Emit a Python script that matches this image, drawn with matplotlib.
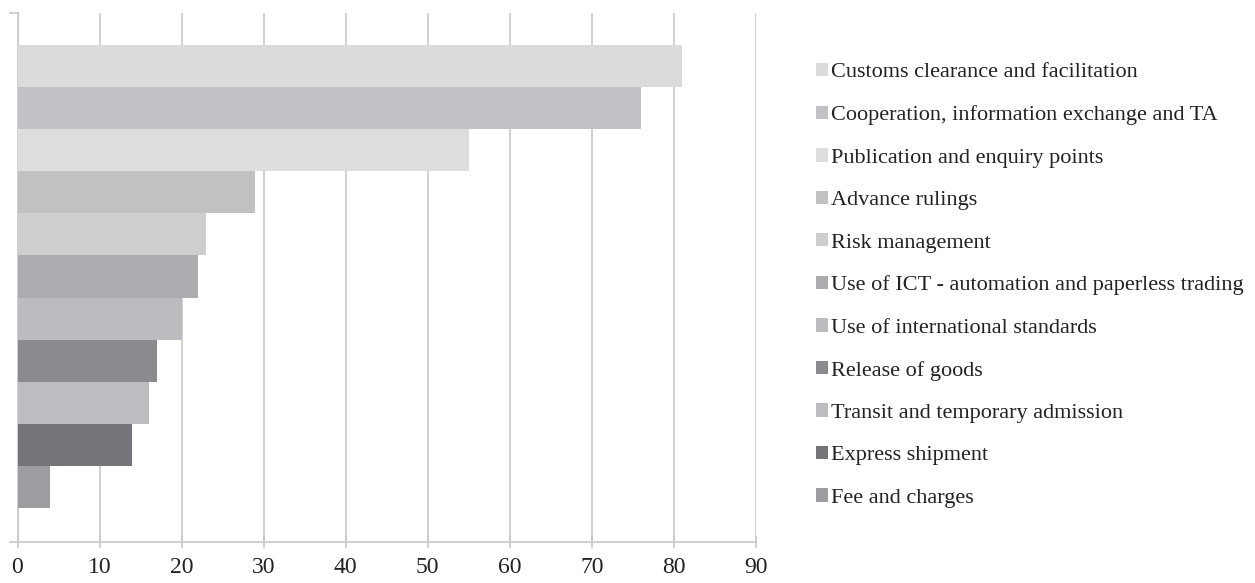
import matplotlib.pyplot as plt
from matplotlib.patches import Patch

categories = ['Customs clearance and facilitation',
              'Cooperation, information exchange and TA',
              'Publication and enquiry points',
              'Advance rulings',
              'Risk management',
              'Use of ICT - automation and paperless trading',
              'Use of international standards',
              'Release of goods',
              'Transit and temporary admission',
              'Express shipment',
              'Fee and charges']
values = [81, 76, 55, 29, 23, 22, 20, 17, 16, 14, 4]
colors = ['#DADBDD', '#C1C2C5', '#DCDDDF', '#C0C1C3', '#CDCED0', '#ABACAF',
          '#BBBCBF', '#8A8B8E', '#BCBDC0', '#747578', '#9C9DA0']

plt.rcParams['font.family'] = ['Liberation Serif', 'DejaVu Serif']

fig = plt.figure(figsize=(12.55, 5.83), dpi=100)
ax = fig.add_axes([17.5 / 1255, 1 - 542 / 583, (756 - 17.5) / 1255, (542 - 13) / 583])

n = len(values)
ypos = list(range(n))
ax.barh(ypos, values, height=1.0, color=colors, zorder=3)
ax.set_ylim(n - 0.5 + 0.8, -0.5 - 0.75)
ax.set_xlim(0, 90)
ax.set_xticks(range(0, 91, 10))
ax.set_yticks([])

grid_c = '#C8C8CA'
ax.grid(axis='x', color=grid_c, linewidth=1.2, zorder=0)
for s in ['top', 'right']:
    ax.spines[s].set_visible(False)
for s in ['left', 'bottom']:
    ax.spines[s].set_color(grid_c)
    ax.spines[s].set_linewidth(1.2)
ax.tick_params(axis='x', direction='inout', length=8, color=grid_c, width=1.2,
               labelsize=17, pad=7)
ax.tick_params(axis='x', labelcolor='#222222')
# small ticks at the ends of the category axis
ax.plot([-0.9, 0], [-0.5 - 0.75, -0.5 - 0.75], color=grid_c, lw=1.2, clip_on=False)
ax.plot([-0.9, 0], [n - 0.5 + 0.8, n - 0.5 + 0.8], color=grid_c, lw=1.2, clip_on=False)

handles = [Patch(facecolor=c, edgecolor='none') for c in colors]
fig.legend(handles, categories, loc='upper left', bbox_to_anchor=(807 / 1255, 1 - 54 / 583),
           frameon=False, fontsize=16, handlelength=0.55, handleheight=0.55,
           handletextpad=0.12, labelspacing=1.03, borderaxespad=0, labelcolor='#222222')

fig.savefig('out.png', dpi=100)
